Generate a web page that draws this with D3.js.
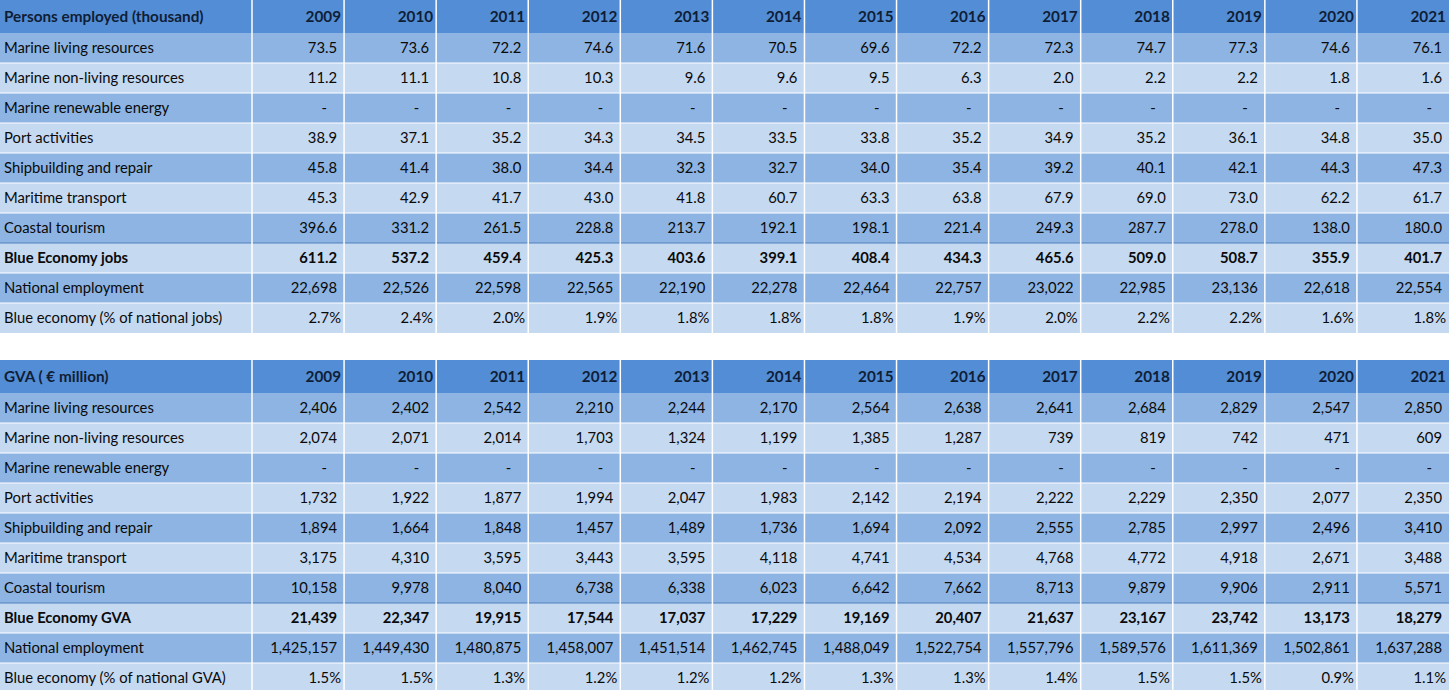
<!DOCTYPE html>
<html>
<head>
<meta charset="utf-8">
<script src="https://cdn.jsdelivr.net/npm/d3@7"></script>
<style>
  html, body { margin: 0; padding: 0; background: #fff; }
  svg text { font-family: Lato, "Open Sans", sans-serif; font-size: 14.8px; fill: #0a0a0a; }
  .hdr text { fill: #0f1e35; font-weight: bold; font-size: 15.3px; }
</style>
</head>
<body>
<div id="chart"></div>
<script>
var years = [2009, 2010, 2011, 2012, 2013, 2014, 2015, 2016, 2017, 2018, 2019, 2020, 2021];

var empLabels = ["Marine living resources", "Marine non-living resources", "Marine renewable energy",
  "Port activities", "Shipbuilding and repair", "Maritime transport", "Coastal tourism",
  "Blue Economy jobs", "National employment", "Blue economy (% of national jobs)"];
var empLiving = [73.5, 73.6, 72.2, 74.6, 71.6, 70.5, 69.6, 72.2, 72.3, 74.7, 77.3, 74.6, 76.1];
var empNonLiving = [11.2, 11.1, 10.8, 10.3, 9.6, 9.6, 9.5, 6.3, 2.0, 2.2, 2.2, 1.8, 1.6];
var empRenewable = [null, null, null, null, null, null, null, null, null, null, null, null, null];
var empPort = [38.9, 37.1, 35.2, 34.3, 34.5, 33.5, 33.8, 35.2, 34.9, 35.2, 36.1, 34.8, 35.0];
var empShip = [45.8, 41.4, 38.0, 34.4, 32.3, 32.7, 34.0, 35.4, 39.2, 40.1, 42.1, 44.3, 47.3];
var empTransport = [45.3, 42.9, 41.7, 43.0, 41.8, 60.7, 63.3, 63.8, 67.9, 69.0, 73.0, 62.2, 61.7];
var empTourism = [396.6, 331.2, 261.5, 228.8, 213.7, 192.1, 198.1, 221.4, 249.3, 287.7, 278.0, 138.0, 180.0];
var empBlue = [611.2, 537.2, 459.4, 425.3, 403.6, 399.1, 408.4, 434.3, 465.6, 509.0, 508.7, 355.9, 401.7];
var empNational = [22698, 22526, 22598, 22565, 22190, 22278, 22464, 22757, 23022, 22985, 23136, 22618, 22554];
var empShare = [2.7, 2.4, 2.0, 1.9, 1.8, 1.8, 1.8, 1.9, 2.0, 2.2, 2.2, 1.6, 1.8];

var gvaLabels = ["Marine living resources", "Marine non-living resources", "Marine renewable energy",
  "Port activities", "Shipbuilding and repair", "Maritime transport", "Coastal tourism",
  "Blue Economy GVA", "National employment", "Blue economy (% of national GVA)"];
var gvaLiving = [2406, 2402, 2542, 2210, 2244, 2170, 2564, 2638, 2641, 2684, 2829, 2547, 2850];
var gvaNonLiving = [2074, 2071, 2014, 1703, 1324, 1199, 1385, 1287, 739, 819, 742, 471, 609];
var gvaRenewable = [null, null, null, null, null, null, null, null, null, null, null, null, null];
var gvaPort = [1732, 1922, 1877, 1994, 2047, 1983, 2142, 2194, 2222, 2229, 2350, 2077, 2350];
var gvaShip = [1894, 1664, 1848, 1457, 1489, 1736, 1694, 2092, 2555, 2785, 2997, 2496, 3410];
var gvaTransport = [3175, 4310, 3595, 3443, 3595, 4118, 4741, 4534, 4768, 4772, 4918, 2671, 3488];
var gvaTourism = [10158, 9978, 8040, 6738, 6338, 6023, 6642, 7662, 8713, 9879, 9906, 2911, 5571];
var gvaBlue = [21439, 22347, 19915, 17544, 17037, 17229, 19169, 20407, 21637, 23167, 23742, 13173, 18279];
var gvaNational = [1425157, 1449430, 1480875, 1458007, 1451514, 1462745, 1488049, 1522754, 1557796, 1589576, 1611369, 1502861, 1637288];
var gvaShare = [1.5, 1.5, 1.3, 1.2, 1.2, 1.2, 1.3, 1.3, 1.4, 1.5, 1.5, 0.9, 1.1];

var W = 1449, H = 690;
var labelW = 252, headH = 33, rowH = 30;
var cHead = "#538dd5", cDark = "#8db4e2", cLight = "#c5d9f1";

var svg = d3.select("#chart").append("svg")
  .attr("width", W).attr("height", H);

var x = d3.scaleBand().domain(years).range([labelW, W]);

var fmt1 = d3.format(",.1f"), fmt0 = d3.format(",.0f");

function drawTable(top, title, labels, series, fmts, boldRow) {
  var g = svg.append("g").attr("transform", "translate(0," + top + ")");
  var y = d3.scaleBand().domain(d3.range(labels.length)).range([headH, headH + rowH * labels.length]);

  // header
  var hdr = g.append("g").attr("class", "hdr");
  hdr.append("rect").attr("x", 0).attr("y", 0).attr("width", W).attr("height", headH).attr("fill", cHead);
  hdr.append("text").attr("x", 4).attr("y", headH / 2).attr("dy", "0.35em").text(title);
  hdr.selectAll("text.yr").data(years).join("text")
    .attr("class", "yr")
    .attr("x", d => x(d) + x.bandwidth() - 3)
    .attr("y", headH / 2).attr("dy", "0.35em")
    .attr("text-anchor", "end")
    .text(d => d);

  // rows
  var rows = g.selectAll("g.row").data(labels).join("g")
    .attr("class", "row")
    .attr("transform", (d, i) => "translate(0," + y(i) + ")");

  rows.append("rect").attr("x", 0).attr("y", 0).attr("width", W).attr("height", rowH)
    .attr("fill", (d, i) => i % 2 === 0 ? cDark : cLight);

  rows.append("text").attr("x", 4).attr("y", rowH / 2).attr("dy", "0.35em")
    .style("font-weight", (d, i) => i === boldRow ? "bold" : null)
    .text(d => d);

  rows.each(function(lab, i) {
    var vals = series[i], f = fmts[i];
    d3.select(this).selectAll("text.v").data(vals).join("text")
      .attr("class", "v")
      .attr("x", (v, j) => {
        var r = x(years[j]) + x.bandwidth();
        if (v === null) return r - 17;
        return f === "pct" ? r - 3 : r - 7;
      })
      .attr("y", rowH / 2).attr("dy", "0.35em")
      .attr("text-anchor", "end")
      .style("font-weight", i === boldRow ? "bold" : null)
      .text(v => v === null ? "-" : f === "pct" ? v.toFixed(1) + "%" : f === "1" ? fmt1(v) : fmt0(v));
  });

  // grid lines between rows (blue above the totals row)
  g.selectAll("line.h").data(d3.range(1, labels.length)).join("line")
    .attr("x1", 0).attr("x2", W)
    .attr("y1", i => y(i)).attr("y2", i => y(i))
    .attr("stroke", i => i === boldRow ? "#4f81bd" : "#fff")
    .attr("stroke-width", 1);

  // vertical white separators
  g.selectAll("line.v").data(years).join("line")
    .attr("x1", d => x(d)).attr("x2", d => x(d))
    .attr("y1", 0).attr("y2", headH + rowH * labels.length)
    .attr("stroke", "#fff").attr("stroke-width", 1.5);
}

drawTable(0, "Persons employed (thousand)", empLabels,
  [empLiving, empNonLiving, empRenewable, empPort, empShip, empTransport, empTourism, empBlue, empNational, empShare],
  ["1", "1", "1", "1", "1", "1", "1", "1", "0", "pct"], 7);

drawTable(360, "GVA ( \u20ac million)", gvaLabels,
  [gvaLiving, gvaNonLiving, gvaRenewable, gvaPort, gvaShip, gvaTransport, gvaTourism, gvaBlue, gvaNational, gvaShare],
  ["0", "0", "0", "0", "0", "0", "0", "0", "0", "pct"], 7);
</script>
</body>
</html>
